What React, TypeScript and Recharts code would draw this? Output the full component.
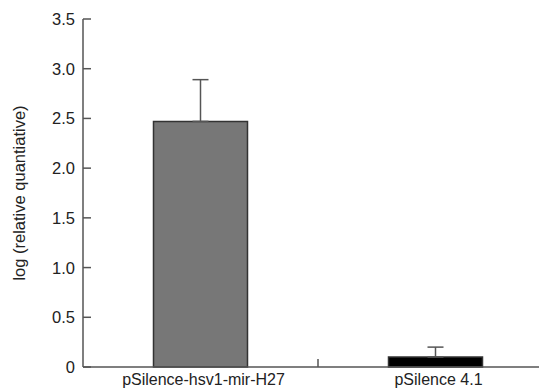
import { BarChart, Bar, XAxis, YAxis, ErrorBar, Cell } from 'recharts'

const categories = ['pSilence-hsv1-mir-H27', 'pSilence 4.1']
const means = [2.47, 0.1]
const errUpper = [0.42, 0.1]
const barColors = ['#777777', '#000000']
const yTicks = [0, 0.5, 1, 1.5, 2, 2.5, 3, 3.5]

const data = categories.map((name, i) => ({
  name,
  value: means[i],
  err: [0, errUpper[i]],
}))

const font = '"Liberation Sans", Arial, Helvetica, sans-serif'
const axisColor = '#555'

function YTick(props: any) {
  const { x, y, payload } = props
  const ax = x + 8
  const v = payload.value
  return (
    <g>
      <line x1={ax} x2={ax + 8} y1={y} y2={y} stroke={axisColor} strokeWidth={1.5} />
      <text x={x} y={y} dy="0.36em" textAnchor="end" fontSize={16.5} fontFamily={font} fill="#222">
        {v === 0 ? '0' : v.toFixed(1)}
      </text>
    </g>
  )
}

function XTick(props: any) {
  const { x, y, payload, index } = props
  const axisY = y - 7
  const half = payload.offset ?? 0
  return (
    <g>
      {index === 0 && (
        <line x1={x + half} x2={x + half} y1={axisY} y2={axisY - 8} stroke={axisColor} strokeWidth={1.5} />
      )}
      <text x={x + 3} y={y} dy="0.71em" textAnchor="middle" fontSize={16} fontFamily={font} fill="#222">
        {payload.value}
      </text>
    </g>
  )
}

export default function App() {
  return (
    <div style={{ position: 'absolute', left: 0, top: 0, width: 539, height: 390, overflow: 'hidden', background: '#fff' }}>
      <BarChart
        width={560}
        height={390}
        data={data}
        margin={{ top: 19, right: 7, left: 0, bottom: 0 }}
        barCategoryGap="30%"
      >
        <XAxis
          dataKey="name"
          height={23}
          tickLine={false}
          tickSize={0}
          tickMargin={7}
          axisLine={{ stroke: axisColor, strokeWidth: 1.5 }}
          tick={<XTick />}
          interval={0}
        />
        <YAxis
          width={83}
          domain={[0, 3.5]}
          ticks={yTicks}
          tickLine={false}
          tickSize={0}
          tickMargin={8}
          axisLine={{ stroke: axisColor, strokeWidth: 1.5 }}
          tick={<YTick />}
          label={{
            value: 'log (relative quantiative)',
            angle: -90,
            position: 'center',
            dx: -22,
            style: { fontSize: 16.5, fontFamily: font, fill: '#222', textAnchor: 'middle' },
          }}
        />
        <Bar dataKey="value" stroke="#333" strokeWidth={1.5} isAnimationActive={false}>
          {data.map((entry, i) => (
            <Cell key={`cell-${i}`} fill={barColors[i]} />
          ))}
          <ErrorBar dataKey="err" width={8} stroke={axisColor} strokeWidth={1.5} direction="y" />
        </Bar>
      </BarChart>
    </div>
  )
}
